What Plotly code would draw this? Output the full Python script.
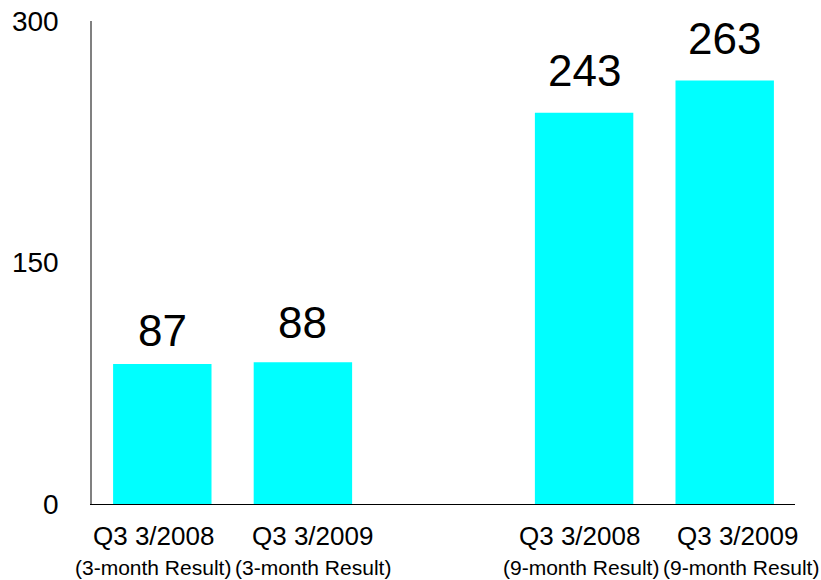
import plotly.graph_objects as go

positions = [0, 1, 3, 4]
values = [87, 88, 243, 263]
labels_top = ["Q3 3/2008", "Q3 3/2009", "Q3 3/2008", "Q3 3/2009"]
labels_sub = ["(3-month Result)", "(3-month Result)", "(9-month Result)", "(9-month Result)"]
y_ticks = [0, 150, 300]

FONT = "Liberation Sans, Arial, sans-serif"

fig = go.Figure()
fig.add_trace(go.Bar(
    x=positions, y=values, width=0.7,
    marker=dict(color="#00FFFF", line=dict(width=0)),
    hoverinfo="skip",
))

annotations = []
value_shift = [7, 13, 16, 16]
for i, (x, v) in enumerate(zip(positions, values)):
    annotations.append(dict(
        x=x, y=v, xref="x", yref="y", text=str(v), showarrow=False,
        yanchor="bottom", yshift=value_shift[i],
        font=dict(family=FONT, size=44, color="black"),
    ))

top_shift = [-9, 10, -5, 13]
sub_shift = [-9, 10, -3, 16]
for i, x in enumerate(positions):
    annotations.append(dict(
        x=x, y=0, xref="x", yref="y", text=labels_top[i], showarrow=False,
        yanchor="middle", yshift=-32, xshift=top_shift[i],
        font=dict(family=FONT, size=26, color="black"),
    ))
    annotations.append(dict(
        x=x, y=0, xref="x", yref="y", text=labels_sub[i], showarrow=False,
        yanchor="middle", yshift=-63, xshift=sub_shift[i],
        font=dict(family=FONT, size=21, color="black"),
    ))

fig.update_layout(
    width=821, height=580,
    margin=dict(l=92, r=26, t=21, b=76, autoexpand=False),
    paper_bgcolor="white", plot_bgcolor="white",
    showlegend=False,
    annotations=annotations,
    font=dict(family=FONT, color="black"),
    xaxis=dict(
        range=[-0.5, 4.5], showticklabels=False, ticks="",
        showgrid=False, zeroline=False, automargin=False,
        showline=True, linecolor="black", linewidth=1.2,
    ),
    yaxis=dict(
        range=[0, 300], tickvals=y_ticks, ticktext=[str(t) for t in y_ticks],
        showgrid=False, zeroline=False, automargin=False,
        showline=True, linecolor="#808080", linewidth=1.5,
        ticks="outside", ticklen=26, tickcolor="rgba(0,0,0,0)",
        tickfont=dict(family=FONT, size=28, color="black"),
    ),
)

fig.write_html("out.html")
